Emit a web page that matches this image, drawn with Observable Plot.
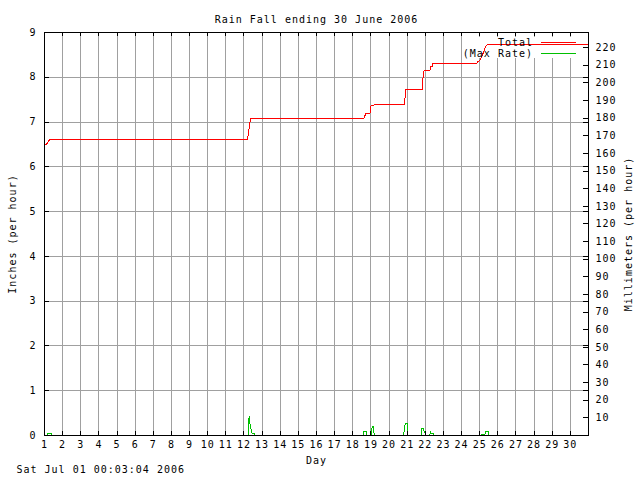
<!DOCTYPE html>
<html><head><meta charset="utf-8">
<script src="https://cdn.jsdelivr.net/npm/d3@7"></script>
<script src="https://cdn.jsdelivr.net/npm/@observablehq/plot@0.6"></script>
<style>body{margin:0;background:#fff}</style>
</head><body><div id="chart"></div>
<script>
const dayTicks = [1,2,3,4,5,6,7,8,9,10,11,12,13,14,15,16,17,18,19,20,21,22,23,24,25,26,27,28,29,30];
const gridDays = dayTicks.slice(1);
const inchTicks = [0,1,2,3,4,5,6,7,8,9];
const gridInches = [1,2,3,4,5,6,7,8];
const mmTicks = [10,20,30,40,50,60,70,80,90,100,110,120,130,140,150,160,170,180,190,200,210,220];
const MM_PER_INCH = 25.4;

// Total rainfall (inches), cumulative
const totalDay    = [1.0, 1.11, 1.28, 12.2, 12.24, 12.32, 12.38, 18.6, 18.68, 18.73, 18.96, 19.01, 19.33, 20.87, 20.9, 21.83, 21.88, 21.94, 22.27, 22.29, 22.37, 22.4, 24.85, 24.9, 25.0, 25.15, 25.31, 25.4, 25.77, 31.0];
const totalInches = [6.50, 6.50, 6.61, 6.62, 6.74, 6.97, 7.08, 7.08, 7.15, 7.20, 7.20, 7.37, 7.39, 7.40, 7.73, 7.73, 8.01, 8.16, 8.16, 8.23, 8.23, 8.31, 8.31, 8.35, 8.38, 8.49, 8.68, 8.72, 8.74, 8.74];

// Max rate (inches per hour), one group per rain event
const rateStorm  = [1,1,1,1, 2,2,2,2,2,2,2,2, 3,3,3,3, 4,4,4,4,4, 5,5,5,5,5, 6,6,6,6,6,6, 7,7,7,7,7,7, 8,8,8,8,8,8];
const rateDay    = [1.18,1.18,1.40,1.40, 12.23,12.23,12.29,12.32,12.40,12.46,12.56,12.58, 18.59,18.59,18.77,18.77, 19.01,19.02,19.07,19.13,19.19, 20.80,20.85,20.90,21.00,21.03, 21.77,21.77,21.90,21.95,22.02,22.03, 22.23,22.26,22.28,22.32,22.45,22.47, 25.09,25.09,25.30,25.31,25.46,25.46];
const rateInches = [0,0.04,0.04,0, 0,0.27,0.42,0.27,0.13,0.04,0.04,0, 0,0.09,0.09,0, 0,0.07,0.20,0.20,0, 0,0.15,0.27,0.27,0, 0,0.15,0.15,0.07,0.07,0, 0,0.04,0.09,0.04,0.04,0, 0,0.03,0.03,0.09,0.09,0];

const total = totalDay.map((d, i) => ({day: d, inches: totalInches[i]}));
const rate = rateDay.map((d, i) => ({storm: rateStorm[i], day: d, inches: rateInches[i]}));

const gray = "#a0a0a0";
const red = "#ff0000";
const green = "#00c000";

const chart = Plot.plot({
  width: 640,
  height: 480,
  marginTop: 32,
  marginRight: 52,
  marginBottom: 45,
  marginLeft: 44,
  style: {fontFamily: "'DejaVu Sans Mono', monospace", fontSize: "10px", letterSpacing: "1px", background: "#fff", color: "#000"},
  x: {domain: [1, 31], axis: null},
  y: {domain: [0, 9], axis: null},
  marks: [
    Plot.ruleX(gridDays, {x: d => d, stroke: gray, shapeRendering: "crispEdges"}),
    Plot.ruleY(gridInches, {y: d => d, stroke: gray, shapeRendering: "crispEdges"}),
    Plot.line(rate, {x: "day", y: "inches", z: "storm", stroke: green, strokeWidth: 1, curve: "linear", shapeRendering: "crispEdges"}),
    Plot.line(total, {x: "day", y: "inches", stroke: red, strokeWidth: 1, curve: "linear", shapeRendering: "crispEdges"}),
    // ticks (inward)
    Plot.ruleX(dayTicks, {x: d => d, y1: 0, y2: 0, insetTop: -4, stroke: "#000", shapeRendering: "crispEdges"}),
    Plot.ruleX(dayTicks, {x: d => d, y1: 9, y2: 9, insetBottom: -4, stroke: "#000", shapeRendering: "crispEdges"}),
    Plot.ruleY(inchTicks, {y: d => d, x1: 1, x2: 1, insetRight: -5, stroke: "#000", shapeRendering: "crispEdges"}),
    Plot.ruleY(inchTicks, {y: d => d, x1: 31, x2: 31, insetLeft: -5, stroke: "#000", shapeRendering: "crispEdges"}),
    Plot.ruleY(mmTicks, {y: m => m / MM_PER_INCH, x1: 31, x2: 31, insetLeft: -5, stroke: "#000", shapeRendering: "crispEdges"}),
    Plot.frame({stroke: "#000", shapeRendering: "crispEdges"}),
    // tick labels
    Plot.text(dayTicks, {x: d => d, frameAnchor: "bottom", dy: 12, text: d => String(d), fill: "#000"}),
    Plot.text(inchTicks, {y: d => d, frameAnchor: "left", dx: -8, textAnchor: "end", text: d => String(d), fill: "#000"}),
    Plot.text(mmTicks, {y: m => m / MM_PER_INCH, frameAnchor: "right", dx: 7, textAnchor: "start", text: m => String(m), fill: "#000"}),
    // titles
    Plot.text(["Rain Fall ending 30 June 2006"], {frameAnchor: "top", dy: -17, textAnchor: "middle", text: d => d, fill: "#000"}),
    Plot.text(["Day"], {frameAnchor: "bottom", dy: 28, textAnchor: "middle", text: d => d, fill: "#000"}),
    Plot.text(["Sat Jul 01 00:03:04 2006"], {frameAnchor: "bottom-left", dx: -28, dy: 37, textAnchor: "start", text: d => d, fill: "#000"}),
    Plot.text(["Inches (per hour)"], {frameAnchor: "left", dx: -32, rotate: -90, textAnchor: "middle", text: d => d, fill: "#000"}),
    Plot.text(["Millimeters (per hour)"], {frameAnchor: "right", dx: 40, rotate: -90, textAnchor: "middle", text: d => d, fill: "#000"})
  ]
});

document.getElementById("chart").appendChild(chart);

// Legend (key) in the top-right corner of the plot area
const svg = d3.select(chart);
const firstLine = chart.querySelector('g[aria-label="line"]');
const bg = document.createElementNS("http://www.w3.org/2000/svg", "rect");
bg.setAttribute("x", 463); bg.setAttribute("y", 37);
bg.setAttribute("width", 115); bg.setAttribute("height", 21);
bg.setAttribute("fill", "#fff");
firstLine.parentNode.insertBefore(bg, firstLine);

const key = svg.append("g").attr("font-family", "'DejaVu Sans Mono', monospace").attr("font-size", 10);
const entries = [{label: "Total", color: red, y: 42.5}, {label: "(Max Rate)", color: green, y: 53.5}];
for (const e of entries) {
  key.append("text").attr("x", 533).attr("y", e.y).attr("dy", "0.32em").attr("text-anchor", "end").attr("fill", "#000").text(e.label);
  key.append("line").attr("x1", 541).attr("x2", 576).attr("y1", Math.floor(e.y) + 0.5).attr("y2", Math.floor(e.y) + 0.5)
    .attr("stroke", e.color).attr("shape-rendering", "crispEdges");
}
</script>
</body></html>
